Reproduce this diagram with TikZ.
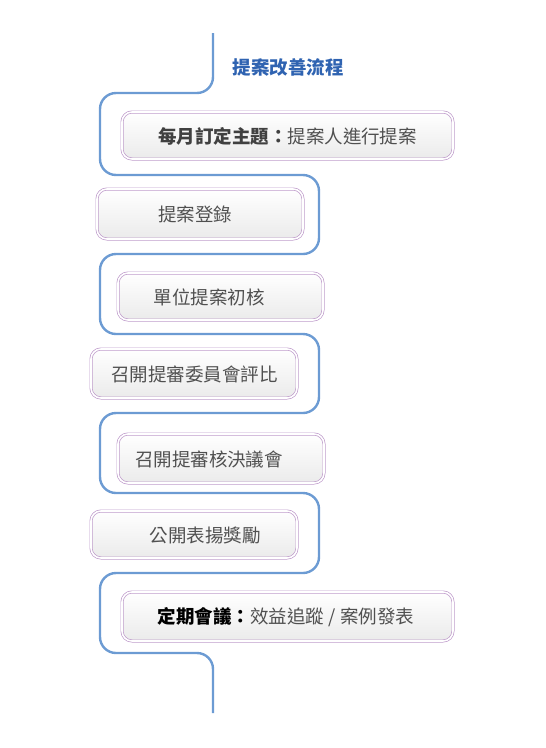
\documentclass[tikz,border=0pt]{standalone}
\usepackage{fontspec}
\setmainfont{Noto Sans CJK TC}
\usetikzlibrary{calc}
\definecolor{flowblue}{HTML}{6C9BD3}
\definecolor{titleblue}{HTML}{2F63B1}
\definecolor{boxedge}{HTML}{BF9CCB}
\definecolor{txtgray}{HTML}{505050}
\tikzset{
  flow/.style={draw=flowblue, line width=2.4pt, rounded corners=16pt},
  stepbox/.style={draw=boxedge, line width=0.7pt, double=white, double distance=1.6pt,
    rounded corners=10pt, top color=white, bottom color=black!8},
  steptext/.style={text=txtgray, font=\fontsize{18.5}{20}\selectfont, inner sep=0pt, anchor=center},
}
\begin{document}
\begin{tikzpicture}[x=1pt,y=-1pt]
\useasboundingbox (0,0) rectangle (546,748);
% serpentine path
\coordinate (s0) at (213,33);
\coordinate (s1) at (213,713);
\draw[flow] (s0) -- (213,93) -- (100,93) -- (100,175) -- (319,175) -- (319,254) -- (100,254)
  -- (100,334) -- (319,334) -- (319,413) -- (100,413) -- (100,493) -- (319,493)
  -- (319,573) -- (100,573) -- (100,653) -- (213,653) -- (s1);
% title
\node[text=titleblue, font=\bfseries\fontsize{18.5}{20}\selectfont] (title) at (288,67) {提案改善流程};
% boxes
\draw[stepbox] (122,112) rectangle (453,159);
\node[steptext] (t1) at (287.5,136) {\textbf{\color{black!75}每月訂定主題：}提案人進行提案};
\draw[stepbox] (97,189) rectangle (303,239);
\node[steptext] (t2) at (195,214) {提案登錄};
\draw[stepbox] (118,273) rectangle (323,320);
\node[steptext] (t3) at (209,297) {單位提案初核};
\draw[stepbox] (91,349) rectangle (297,398);
\node[steptext] (t4) at (194.5,374) {召開提審委員會評比};
\draw[stepbox] (118,434) rectangle (324,483);
\node[steptext] (t5) at (209,459) {召開提審核決議會};
\draw[stepbox] (91,511) rectangle (297,558);
\node[steptext] (t6) at (205,535) {公開表揚獎勵};
\draw[stepbox] (122,592) rectangle (453,641);
\node[steptext] (t7) at (286,617) {\textbf{\color{black}定期會議：}效益追蹤 / 案例發表};
\end{tikzpicture}
\end{document}
